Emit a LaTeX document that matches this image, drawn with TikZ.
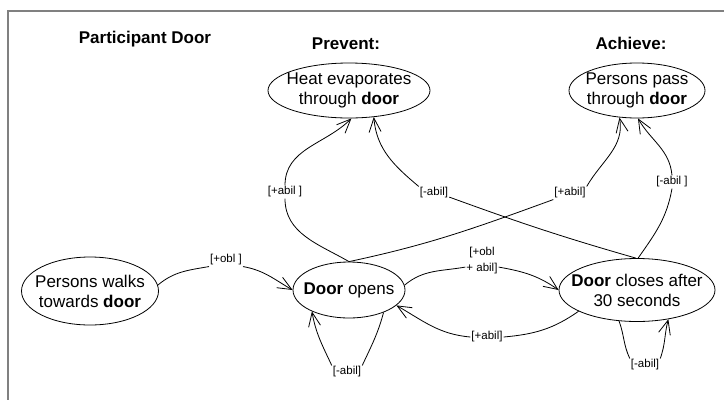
\documentclass[tikz,border=0pt]{standalone}
\usepackage{fontspec}
\setmainfont{Liberation Sans}
\usetikzlibrary{shapes.geometric,arrows.meta}
\begin{document}
\begin{tikzpicture}[x=1pt,y=-1pt,
  frame/.style={draw=black!50, line width=1.8pt},
  state/.style={ellipse, draw, line width=0.8pt, inner sep=0pt},
  txt/.style={font=\fontsize{17}{20}\selectfont, align=center, inner sep=0pt},
  lab/.style={font=\fontsize{11.5}{16}\selectfont, align=center, inner sep=1pt},
  head/.style={font=\bfseries\fontsize{17}{20}\selectfont, anchor=base},
  conn/.style={line width=0.8pt},
  arr/.style={conn, -{Straight Barb[length=14pt,width=12pt]}}]
\useasboundingbox (0,0) rectangle (724,400);
\draw[frame] (724,11) -- (8,11) -- (8,400);

% headings
\node[head] (t1) at (145,43) {Participant Door};
\node[head] (t2) at (346,49) {Prevent:};
\node[head] (t3) at (631,49) {Achieve:};

% states
\node[state, minimum width=162pt, minimum height=55pt,
  label={[txt]center:{Heat evaporates\\through \textbf{door}}}] (heat) at (349,90.5) {};
\node[state, minimum width=136pt, minimum height=55pt,
  label={[txt]center:{Persons pass\\through \textbf{door}}}] (pass) at (637,90.5) {};
\node[state, minimum width=137pt, minimum height=68pt,
  label={[txt]center:{Persons walks\\towards \textbf{door}}}] (walks) at (90,291) {};
\node[state, minimum width=112pt, minimum height=56pt,
  label={[txt]center:{\textbf{Door} opens}}] (opens) at (349,290) {};
\node[state, minimum width=156pt, minimum height=63pt,
  label={[txt]center:{\textbf{Door} closes after\\30 seconds}}] (closes) at (637,290) {};

% modality labels
\node[lab] (lobl) at (226,260) {[+obl ]};
\node[lab] (loa) at (482,261) {[+obl\\+ abil]};
\node[lab] (lcb) at (487,337) {[+abil]};
\node[lab] (lol) at (347,372) {[-abil]};
\node[lab] (lcl) at (645,365) {[-abil]};
\node[lab] (lha) at (285,192) {[+abil ]};
\node[lab] (lhm) at (434,193) {[-abil]};
\node[lab] (lpa) at (570,193) {[+abil]};
\node[lab] (lpm) at (672,182) {[-abil ]};

% transitions
\draw[conn] (walks.5) to[out=40,in=190] (lobl.south west);
\draw[arr] (lobl.south east) to[out=-10,in=150] (opens.west);

\draw[conn] (opens.5) to[out=40,in=190] (loa.200);
\draw[arr] (loa.-20) to[out=-10,in=145] (closes.west);

\draw[conn] (closes.200) to[out=215,in=5] (lcb.east);
\draw[arr] (lcb.west) to[out=175,in=-30] (opens.-18);

\draw[conn] (opens.-33) to[out=-105,in=65] (lol.north east);
\draw[arr] (lol.north west) to[out=115,in=-80] (opens.210);

\draw[conn] (closes.240) to[out=-70,in=115] (lcl.north west);
\draw[arr] (lcl.north east) to[out=70,in=-105] (closes.-43);

\draw[conn] (opens.north) to[out=150,in=-90] (lha.south);
\draw[arr] (lha.north) to[out=90,in=-135] (heat.-85);

\draw[conn] (closes.92) to[out=164,in=-20] (lhm.-15);
\draw[arr] (lhm.north west) to[out=140,in=-85] (heat.-47);

\draw[conn] (opens.north) to[out=12,in=200] (lpa.south west);
\draw[arr] (lpa.north east) to[out=60,in=-80] (pass.237);

\draw[conn] (closes.88) to[out=55,in=-100] (lpm.south);
\draw[arr] (lpm.north) to[out=95,in=-60] (pass.-88);
\end{tikzpicture}
\end{document}
